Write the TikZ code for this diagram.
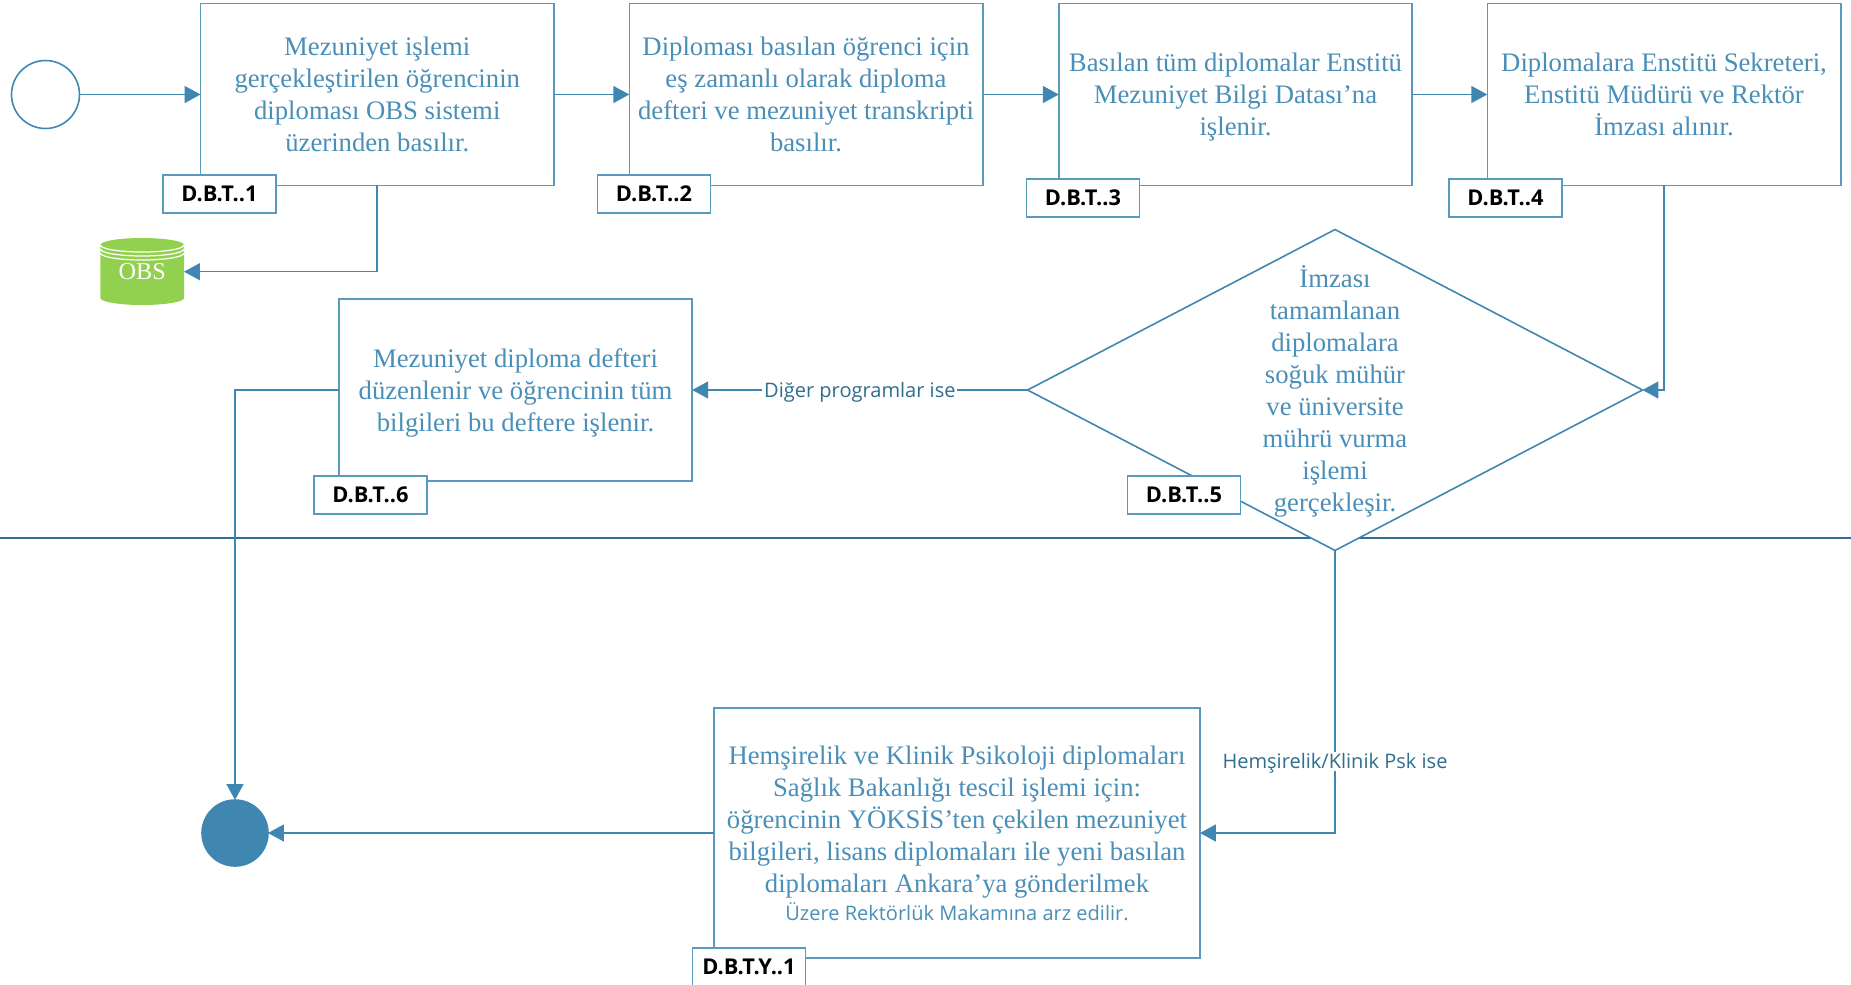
\documentclass[tikz,border=0pt]{standalone}
\usepackage{fontspec}
\setmainfont{Liberation Serif}
\newfontfamily\labelfont{Open Sans}
\usetikzlibrary{arrows.meta,shapes.geometric,positioning}
\definecolor{flowblue}{HTML}{3F86B0}
\definecolor{boxblue}{HTML}{5B9ABF}
\definecolor{boxtext}{HTML}{4A8FB8}
\definecolor{darkline}{HTML}{2F6E8C}
\definecolor{obsgreen}{HTML}{92D050}
\tikzset{
  line/.style={draw=flowblue,line width=0.9pt},
  flow/.style={line,-{Triangle[length=0.32cm,width=0.34cm,fill=flowblue]}},
  stepbox/.style={draw=boxblue,line width=0.9pt,fill=white,rectangle,outer sep=0pt,minimum width=7.07cm,minimum height=3.64cm,
    align=center,text=boxtext,font=\fontsize{15.2}{18.2}\selectfont,text depth=0pt},
  tag/.style={draw=boxblue,line width=0.9pt,fill=white,rectangle,outer sep=0pt,minimum width=2.26cm,minimum height=0.76cm,inner sep=0pt,
    text=black,font=\labelfont\fontsize{12.4}{13}\selectfont\bfseries},
  edgelabel/.style={fill=white,inner sep=1pt,text=darkline,text depth=0pt,font=\labelfont\fontsize{11.4}{13}\selectfont}
}
\begin{document}
\begin{tikzpicture}[x=0.02cm,y=-0.02cm]
  \useasboundingbox (0,0) rectangle (1851,984);

  % the line across the page
  \coordinate (lineL) at (0,537.7);
  \coordinate (lineR) at (1851,537.7);
  \draw[draw=darkline,line width=0.9pt] (lineL) -- (lineR);

  % start and end
  \node[line,circle,outer sep=0pt,minimum size=1.36cm,inner sep=0pt] (start) at (45.5,94.5) {};
  \node[line,circle,fill=flowblue,outer sep=0pt,minimum size=1.32cm,inner sep=0pt] (end) at (235,833) {};

  % database
  \fill[obsgreen] (100.4,245) arc[x radius=41.8,y radius=7,start angle=180,end angle=360]
    -- (184.0,298) arc[x radius=41.8,y radius=7,start angle=0,end angle=180] -- cycle;
  \foreach \ringy in {245,249,253}
    \draw[white,line width=0.7pt] (100.4,\ringy) arc[x radius=41.8,y radius=7,start angle=180,end angle=0];
  \node[minimum width=1.672cm,inner sep=0pt,outer sep=0pt,text=white,font=\fontsize{13.8}{16}\selectfont] (obs) at (142.2,271.7) {OBS};

  % the boxes
  \node[stepbox] (box1) at (377.25,94.5) {Mezuniyet işlemi\\gerçekleştirilen öğrencinin\\diploması OBS sistemi\\üzerinden basılır.};
  \node[stepbox] (box2) at (806,94.5) {Diploması basılan öğrenci için\\eş zamanlı olarak diploma\\defteri ve mezuniyet transkripti\\basılır.};
  \node[stepbox] (box3) at (1235.5,94.5) {Basılan tüm diplomalar Enstitü\\Mezuniyet Bilgi Datası’na\\işlenir.};
  \node[stepbox] (box4) at (1664,94.5) {Diplomalara Enstitü Sekreteri,\\Enstitü Müdürü ve Rektör\\İmzası alınır.};
  \node[stepbox] (box6) at (515.5,390) {Mezuniyet diploma defteri\\düzenlenir ve öğrencinin tüm\\bilgileri bu deftere işlenir.};
  \node[stepbox,minimum width=9.72cm,minimum height=5cm] (box7) at (957,833) {Hemşirelik ve Klinik Psikoloji diplomaları\\Sağlık Bakanlığı tescil işlemi için:\\öğrencinin YÖKSİS’ten çekilen mezuniyet\\bilgileri, lisans diplomaları ile yeni basılan\\diplomaları Ankara’ya gönderilmek\\[-2.3pt]{\labelfont\fontsize{11.4}{15}\selectfont Üzere Rektörlük Makamına arz edilir.}};

  % the decision
  \node[line,fill=white,diamond,outer sep=0pt,inner sep=0pt,minimum width=12.3cm,minimum height=6.42cm] (dia) at (1335,390) {};
  \node[align=center,text=boxtext,font=\fontsize{15.2}{18.2}\selectfont,text depth=0pt] (diatext) at (1335,388.5) {İmzası\\tamamlanan\\diplomalara\\soğuk mühür\\ve üniversite\\mührü vurma\\işlemi\\gerçekleşir.};

  % the tags
  \node[tag] (tag1) at (219.5,194) {D.B.T..1};
  \node[tag] (tag2) at (654,194) {D.B.T..2};
  \node[tag] (tag3) at (1083,198) {D.B.T..3};
  \node[tag] (tag4) at (1505.5,198) {D.B.T..4};
  \node[tag] (tag5) at (1184,495) {D.B.T..5};
  \node[tag] (tag6) at (370.5,495) {D.B.T..6};
  \node[tag] (tag7) at (749,967) {D.B.T.Y..1};

  % the connectors
  \draw[flow] (start.east) -- (box1.west);
  \draw[flow] (box1.east) -- (box2.west);
  \draw[flow] (box2.east) -- (box3.west);
  \draw[flow] (box3.east) -- (box4.west);
  \draw[flow] (box1.south) |- (obs.east);
  \draw[flow] (box4.south) |- (dia.east);
  \draw[flow] (dia.west) -- (box6.east) node[edgelabel,pos=0.5] (lab1) {Diğer programlar ise};
  \draw[flow] (dia.south) |- (box7.east) node[edgelabel,pos=0.373] (lab2) {Hemşirelik/Klinik Psk ise};
  \draw[flow] (box6.west) -| (end.north);
  \draw[flow] (box7.west) -- (end.east);
\end{tikzpicture}
\end{document}
